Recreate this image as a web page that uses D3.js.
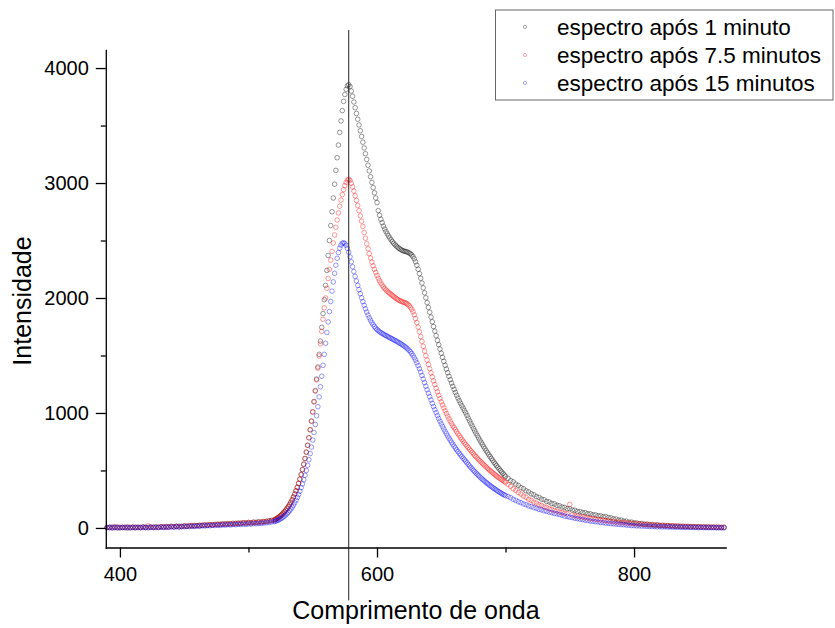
<!DOCTYPE html>
<html><head><meta charset="utf-8">
<script src="https://cdn.jsdelivr.net/npm/d3@7"></script>
<style>
body{margin:0;background:#fff}
text{font-family:"Liberation Sans",Arial,sans-serif;fill:#000}
</style>
</head><body>
<svg id="chart" width="835" height="628"></svg>
<script>
// ---- DATA ----
const seriesNames = ["espectro após 1 minuto", "espectro após 7.5 minutos", "espectro após 15 minutos"];
// wavelength sampling grid segments [start, end, step]
const waveSegments = [[390, 518, 2], [520, 700, 1], [702, 870, 2]];
const xTickLabels = [400, 600, 800];
const xMinorTicks = [500, 700];
const yTickLabels = [0, 1000, 2000, 3000, 4000];
const yMinorTicks = [500, 1500, 2500, 3500];
const markerWavelength = 578;

const spectrum1min = [
// 390-518 step 2
5, 2, 8, 3, 0, 6, 4, 1, 9, 3,
5, 2, 7, 4, 10, 3, 6, 8, 4, 9,
5, 11, 7, 12, 8, 14, 10, 13, 16, 12,
18, 15, 20, 17, 22, 19, 24, 21, 27, 24,
29, 26, 31, 33, 30, 36, 33, 38, 35, 41,
38, 43, 40, 46, 44, 48, 45, 51, 49, 53,
52, 56, 58, 62, 66,
// 520-700 step 1
70, 76, 82, 90, 98, 108, 118, 130, 142, 155,
170, 186, 204, 224, 246, 270, 296, 324, 354, 388,
425, 465, 508, 555, 605, 660, 720, 785, 855, 930,
1010, 1100, 1195, 1295, 1400, 1510, 1625, 1745, 1865, 1985,
2110, 2240, 2370, 2500, 2630, 2750, 2870, 2990, 3110, 3220,
3330, 3440, 3540, 3630, 3710, 3770, 3815, 3845, 3855, 3840,
3800, 3755, 3705, 3655, 3605, 3555, 3505, 3455, 3405, 3355,
3305, 3255, 3205, 3155, 3105, 3055, 3005, 2960, 2915, 2870,
2830, 2760, 2720, 2685, 2655, 2625, 2600, 2578, 2558, 2540,
2522, 2505, 2490, 2476, 2463, 2452, 2442, 2433, 2425, 2418,
2412, 2408, 2405, 2402, 2398, 2392, 2385, 2375, 2360, 2340,
2315, 2285, 2250, 2212, 2172, 2130, 2088, 2045, 2002, 1960,
1918, 1876, 1834, 1793, 1752, 1712, 1672, 1632, 1594, 1556,
1520, 1484, 1449, 1415, 1382, 1350, 1319, 1289, 1260, 1232,
1205, 1179, 1154, 1130, 1107, 1085, 1063, 1042, 1021, 1001,
978, 955, 932, 910, 888, 866, 845, 824, 804, 784,
764, 745, 726, 707, 689, 671, 654, 637, 620, 604,
588, 572, 557, 542, 528, 514, 500, 487, 474, 461,
449,
// 702-870 step 2
432, 412, 401, 381, 370, 351, 341, 323, 314, 297,
289, 273, 266, 251, 246, 231, 226, 213, 209, 197,
193, 182, 179, 168, 166, 156, 154, 144, 143, 134,
133, 124, 123, 115, 114, 106, 106, 98, 98, 90,
88, 79, 78, 69, 68, 60, 59, 51, 51, 44,
44, 37, 39, 32, 34, 28, 30, 24, 27, 21,
23, 18, 21, 15, 19, 14, 17, 12, 15, 11,
14, 9, 12, 8, 11, 7, 10, 6, 9, 5,
8, 4, 7, 3, 6
];

const spectrum7min = [
// 390-518 step 2
3, 7, 1, 12, 4, 2, 8, 5, 0, 6,
9, 3, 5, 1, 7, 4, 18, 6, 3, 8,
6, 9, 12, 5, 10, 13, 9, 15, 11, 14,
17, 13, 19, 22, 16, 21, 18, 25, 23, 26,
28, 25, 30, 27, 34, 31, 36, 32, 38, 34,
40, 37, 42, 45, 41, 47, 44, 49, 47, 52,
50, 55, 57, 60, 65,
// 520-700 step 1
68, 74, 80, 88, 96, 106, 116, 128, 140, 153,
168, 184, 202, 222, 244, 268, 294, 322, 352, 386,
423, 463, 506, 553, 603, 658, 718, 783, 853, 928,
1008, 1096, 1190, 1288, 1390, 1495, 1602, 1710, 1815, 1915,
2000, 2085, 2170, 2250, 2330, 2405, 2478, 2548, 2615, 2678,
2740, 2798, 2852, 2900, 2942, 2978, 3006, 3025, 3032, 3022,
2998, 2966, 2930, 2890, 2848, 2805, 2760, 2714, 2668, 2622,
2570, 2520, 2472, 2428, 2386, 2348, 2312, 2280, 2250, 2222,
2196, 2172, 2150, 2130, 2112, 2096, 2082, 2070, 2059, 2049,
2040, 2031, 2022, 2013, 2004, 1996, 1988, 1981, 1975, 1970,
1966, 1962, 1958, 1952, 1944, 1934, 1920, 1902, 1880, 1854,
1822, 1786, 1747, 1706, 1664, 1622, 1580, 1539, 1499, 1460,
1422, 1385, 1349, 1314, 1280, 1247, 1215, 1184, 1154, 1125,
1097, 1070, 1044, 1019, 995, 972, 950, 928, 907, 887,
872, 854, 836, 819, 802, 786, 770, 755, 740, 726,
712, 698, 684, 671, 658, 645, 632, 620, 608, 596,
584, 573, 562, 551, 540, 529, 519, 509, 499, 489,
480, 471, 462, 453, 444, 436, 428, 420, 412, 404,
396,
// 702-870 step 2
378, 362, 341, 327, 308, 295, 277, 266, 249, 239,
224, 216, 203, 196, 184, 178, 167, 162, 152, 148,
139, 135, 127, 123, 205, 113, 106, 103, 97, 95,
89, 87, 81, 80, 75, 74, 69, 68, 63, 62,
57, 56, 51, 51, 47, 47, 43, 42, 39, 38,
35, 35, 32, 31, 29, 29, 26, 26, 24, 24,
21, 22, 19, 20, 17, 18, 15, 16, 13, 14,
12, 13, 11, 11, 9, 10, 8, 9, 7, 8,
6, 7, 5, 6, 5
];

const spectrum15min = [
// 390-518 step 2
2, 5, 0, 4, 8, 1, 3, 6, 2, 0,
4, 7, 2, 5, 3, 6, 1, 4, 8, 3,
5, 7, 4, 9, 6, 10, 8, 11, 7, 12,
10, 14, 12, 16, 13, 18, 15, 20, 17, 21,
19, 23, 21, 25, 22, 27, 24, 29, 26, 30,
28, 32, 30, 34, 31, 36, 33, 38, 36, 40,
39, 43, 45, 48, 52,
// 520-700 step 1
55, 59, 63, 68, 74, 80, 87, 95, 104, 114,
125, 137, 150, 165, 181, 199, 219, 241, 265, 291,
319, 350, 383, 419, 458, 500, 545, 594, 647, 704,
765, 830, 900, 975, 1055, 1140, 1228, 1320, 1414, 1510,
1606, 1700, 1792, 1882, 1970, 2060, 2140, 2215, 2285, 2345,
2395, 2433, 2460, 2476, 2480, 2474, 2458, 2432, 2398, 2358,
2315, 2272, 2230, 2188, 2148, 2110, 2073, 2037, 2002, 1968,
1936, 1906, 1878, 1852, 1828, 1806, 1786, 1768, 1752, 1738,
1726, 1716, 1707, 1699, 1692, 1685, 1679, 1673, 1667, 1661,
1655, 1649, 1643, 1637, 1631, 1625, 1619, 1612, 1605, 1598,
1591, 1583, 1575, 1566, 1556, 1545, 1532, 1517, 1500, 1481,
1460, 1437, 1412, 1385, 1356, 1326, 1295, 1264, 1233, 1202,
1172, 1142, 1113, 1084, 1056, 1029, 1003, 977, 952, 928,
905, 883, 861, 840, 820, 800, 781, 763, 745, 728,
711, 695, 679, 664, 649, 635, 621, 607, 594, 581,
567, 553, 540, 527, 514, 502, 490, 478, 467, 456,
445, 434, 424, 414, 404, 395, 386, 377, 368, 360,
352, 344, 336, 328, 321, 314, 307, 300, 293, 287,
281,
// 702-870 step 2
274, 263, 249, 240, 228, 220, 209, 202, 192, 186,
176, 171, 162, 157, 149, 145, 137, 133, 126, 123,
116, 111, 103, 100, 93, 90, 84, 81, 76, 73,
68, 65, 60, 58, 54, 52, 48, 46, 42, 41,
37, 36, 33, 32, 29, 28, 25, 24, 21, 20,
18, 18, 16, 16, 14, 14, 12, 12, 10, 11,
9, 10, 8, 9, 7, 8, 6, 7, 5, 6,
5, 5, 4, 5, 3, 4, 3, 3, 2, 3,
2, 2, 1, 2, 0
];

// ---- STYLE ----
const seriesColors = ["#000000", "#ff0000", "#0000ff"];

// ---- BUILD ----
const wavelengths = waveSegments.flatMap(([a, b, s]) => d3.range(a, b + s / 2, s));
const allSeries = [spectrum1min, spectrum7min, spectrum15min];

const svg = d3.select("#chart");
const x = d3.scaleLinear().domain([389, 871.3]).range([105.8, 725.7]);
const y = d3.scaleLinear().domain([-170, 4157]).range([547.5, 50]);

// points
allSeries.forEach((vals, si) => {
  const n = Math.min(vals.length, wavelengths.length);
  const pts = d3.range(n).map(i => ({w: wavelengths[i], v: vals[i]}));
  svg.append("g")
    .selectAll("circle").data(pts).join("circle")
    .attr("cx", d => x(d.w)).attr("cy", d => y(d.v)).attr("r", 2.3)
    .attr("fill", "none").attr("stroke", seriesColors[si])
    .attr("stroke-width", 0.8).attr("stroke-opacity", 0.5);
});

// axes
function styleAxis(g, fs) {
  g.attr("font-family", null).attr("font-size", null);
  g.selectAll("text").style("font-size", fs + "px").attr("fill", "#000");
  g.selectAll("line").attr("stroke", "#000").attr("stroke-width", 1.3);
  g.select(".domain").attr("stroke", "#000").attr("stroke-width", 1.3).attr("stroke-linecap", "square");
}
const fmt = d3.format("d");
const gx = svg.append("g").attr("transform", "translate(0,547.5)")
  .call(d3.axisBottom(x).tickValues(xTickLabels).tickFormat(fmt).tickSize(10).tickSizeOuter(0).tickPadding(9));
styleAxis(gx, 20);
const gxm = svg.append("g").attr("transform", "translate(0,547.5)")
  .call(d3.axisBottom(x).tickValues(xMinorTicks).tickSize(5).tickSizeOuter(0).tickFormat(""));
styleAxis(gxm, 20); gxm.select(".domain").remove();

const gy = svg.append("g").attr("transform", "translate(105.8,0)")
  .call(d3.axisLeft(y).tickValues(yTickLabels).tickFormat(fmt).tickSize(10).tickSizeOuter(0).tickPadding(7));
styleAxis(gy, 20);
const gym = svg.append("g").attr("transform", "translate(105.8,0)")
  .call(d3.axisLeft(y).tickValues(yMinorTicks).tickSize(5).tickSizeOuter(0).tickFormat(""));
styleAxis(gym, 20); gym.select(".domain").remove();

// vertical marker line
svg.append("line")
  .attr("x1", x(markerWavelength)).attr("x2", x(markerWavelength))
  .attr("y1", y(4330)).attr("y2", y(-630))
  .attr("stroke", "#222").attr("stroke-width", 1);

// axis titles
svg.append("text").attr("x", 416).attr("y", 619).attr("text-anchor", "middle")
  .style("font-size", "25px").text("Comprimento de onda");
svg.append("text").attr("transform", "translate(31,301) rotate(-90)").attr("text-anchor", "middle")
  .style("font-size", "25px").text("Intensidade");

// legend
const lg = svg.append("g");
lg.append("rect").attr("x", 495.5).attr("y", 10).attr("width", 337.5).attr("height", 90)
  .attr("fill", "#fff").attr("stroke", "#666").attr("stroke-width", 1);
seriesNames.forEach((name, i) => {
  const cy = 27 + i * 28;
  lg.append("circle").attr("cx", 525).attr("cy", cy).attr("r", 1.6)
    .attr("fill", "none").attr("stroke", seriesColors[i]).attr("stroke-width", 0.7).attr("stroke-opacity", 0.5);
  lg.append("text").attr("x", 557).attr("y", cy).attr("dy", "0.35em")
    .style("font-size", "22.5px").text(name);
});
</script>
</body></html>
